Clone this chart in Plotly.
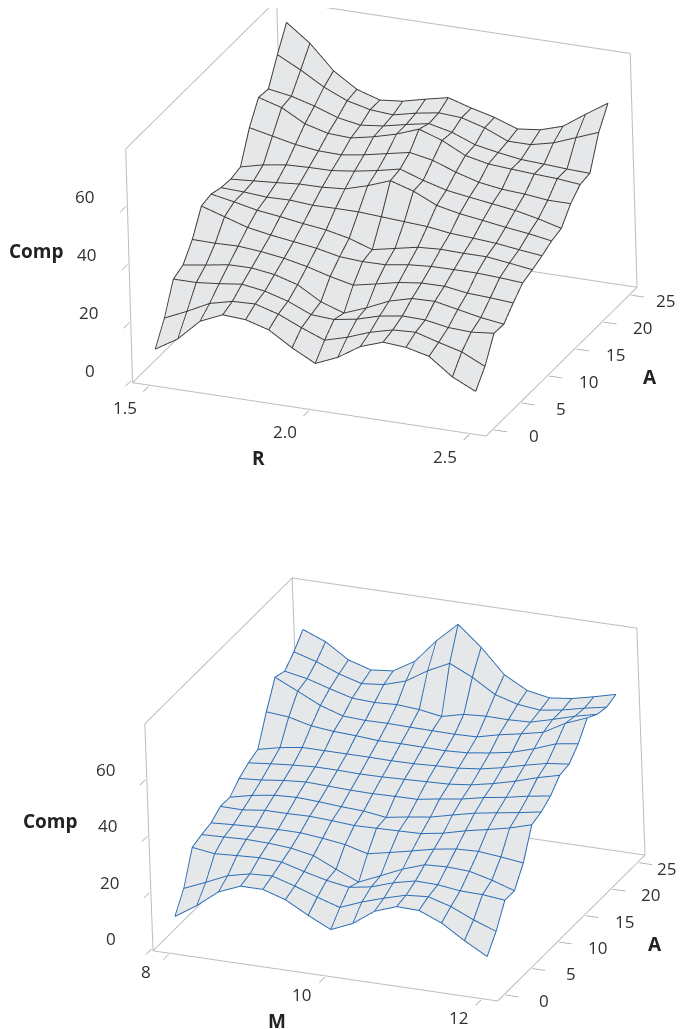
import plotly.graph_objects as go

R_VALUES = [1.5, 1.5714, 1.6429, 1.7143, 1.7857, 1.8571, 1.9286, 2.0, 2.0714, 2.1429, 2.2143, 2.2857, 2.3571, 2.4286, 2.5]
M_VALUES = [8.0, 8.2857, 8.5714, 8.8571, 9.1429, 9.4286, 9.7143, 10.0, 10.2857, 10.5714, 10.8571, 11.1429, 11.4286, 11.7143, 12.0]
A_VALUES = [0.0, 1.7857, 3.5714, 5.3571, 7.1429, 8.9286, 10.7143, 12.5, 14.2857, 16.0714, 17.8571, 19.6429, 21.4286, 23.2143, 25.0]

R_TICKS = [1.5, 2.0, 2.5]
R_TICK_TEXT = ["1.5", "2.0", "2.5"]
M_TICKS = [8, 10, 12]
M_TICK_TEXT = ["8", "10", "12"]
A_TICKS = [0, 5, 10, 15, 20, 25]
COMP_TICKS = [0, 20, 40, 60]

# rows run along R (or M), one row per A value, front to back
COMP_R = [
    [9.1, 13.8, 21.1, 24.5, 24.0, 21.7, 16.7, 12.5, 15.8, 20.7, 23.4, 22.8, 20.9, 15.0, 11.2],
    [16.5, 20.0, 23.9, 25.8, 26.1, 23.8, 20.3, 17.2, 19.4, 22.3, 24.3, 24.7, 22.4, 20.3, 16.5],
    [26.6, 26.6, 27.4, 28.4, 27.2, 24.9, 21.5, 21.0, 22.3, 24.6, 25.8, 25.6, 24.2, 23.8, 24.6],
    [28.1, 29.3, 30.6, 30.7, 29.6, 27.3, 22.6, 19.9, 22.9, 26.4, 28.5, 28.7, 27.1, 25.5, 24.4],
    [33.6, 33.5, 33.7, 33.0, 31.9, 30.2, 28.0, 26.2, 27.8, 29.5, 30.5, 30.6, 29.4, 29.0, 28.4],
    [41.8, 39.3, 36.8, 35.4, 34.3, 33.2, 31.5, 31.0, 31.1, 32.3, 32.9, 33.0, 33.0, 32.6, 32.0],
    [42.6, 41.1, 39.4, 38.4, 37.2, 36.2, 34.5, 31.8, 33.4, 35.0, 35.5, 35.3, 35.3, 34.3, 33.2],
    [41.5, 41.2, 40.6, 40.8, 40.2, 40.3, 40.3, 39.8, 39.3, 38.8, 37.7, 37.2, 36.6, 35.6, 34.7],
    [41.1, 41.7, 42.3, 43.0, 43.1, 43.7, 46.0, 48.9, 46.5, 42.8, 41.1, 40.0, 38.8, 37.8, 36.5],
    [42.0, 43.9, 45.1, 45.4, 45.5, 46.5, 47.9, 49.6, 46.9, 44.7, 43.5, 42.4, 41.3, 39.6, 37.5],
    [52.2, 50.5, 48.8, 47.8, 47.6, 48.8, 50.4, 52.0, 50.5, 47.6, 45.3, 44.1, 43.6, 42.7, 42.7],
    [59.3, 57.0, 52.6, 50.5, 50.1, 51.7, 53.8, 56.7, 54.0, 50.0, 48.3, 47.7, 47.2, 46.8, 46.0],
    [58.9, 57.6, 55.4, 52.6, 51.2, 52.1, 53.8, 55.3, 53.5, 50.4, 48.9, 47.7, 47.3, 46.8, 46.5],
    [67.4, 63.3, 58.6, 55.1, 53.2, 52.6, 54.4, 55.7, 55.2, 52.9, 49.5, 49.5, 51.3, 54.3, 57.3],
    [75.2, 69.2, 60.9, 55.7, 53.2, 54.0, 55.9, 57.6, 55.2, 53.2, 50.4, 51.3, 53.7, 59.0, 64.0],
]

COMP_M = [
    [9.7, 14.7, 20.7, 23.9, 23.9, 21.4, 17.0, 13.1, 16.4, 21.9, 24.7, 24.5, 21.2, 16.1, 11.6],
    [16.3, 19.6, 23.1, 24.9, 25.3, 22.9, 20.1, 17.6, 20.7, 23.2, 25.4, 26.0, 23.7, 20.1, 17.2],
    [27.5, 26.4, 26.9, 27.3, 26.9, 24.7, 22.7, 21.4, 22.7, 25.3, 27.1, 26.9, 25.9, 25.7, 24.9],
    [28.7, 29.0, 29.3, 29.1, 28.5, 27.0, 23.3, 19.9, 23.3, 26.8, 29.5, 29.9, 29.5, 27.5, 24.9],
    [29.5, 30.0, 30.4, 30.6, 30.6, 29.8, 28.7, 26.6, 28.2, 29.9, 31.7, 32.9, 33.2, 32.4, 31.4],
    [32.0, 31.9, 32.9, 32.9, 33.1, 32.7, 32.1, 32.3, 32.5, 32.7, 34.0, 36.0, 37.6, 39.3, 41.6],
    [31.9, 33.7, 34.9, 35.3, 34.9, 34.3, 33.9, 32.8, 34.1, 35.2, 37.1, 38.9, 40.2, 41.4, 42.8],
    [35.2, 35.8, 36.8, 37.4, 37.1, 36.8, 36.7, 36.9, 37.0, 38.3, 39.4, 41.1, 42.3, 43.9, 45.1],
    [37.4, 38.2, 38.9, 39.4, 39.4, 39.2, 39.3, 39.6, 39.9, 40.2, 41.1, 42.7, 44.7, 47.1, 49.1],
    [38.8, 40.6, 41.8, 41.8, 41.8, 41.8, 41.7, 41.8, 42.2, 42.5, 43.4, 45.0, 47.0, 48.8, 49.7],
    [48.8, 48.1, 46.1, 45.3, 44.9, 44.3, 44.4, 44.3, 44.2, 44.6, 45.7, 47.1, 49.5, 52.4, 53.6],
    [57.7, 53.9, 50.0, 47.4, 47.0, 47.1, 46.9, 46.8, 46.7, 46.9, 48.8, 50.3, 52.0, 56.3, 59.4],
    [56.5, 55.0, 52.6, 50.4, 50.0, 50.4, 49.8, 48.5, 50.4, 50.9, 50.8, 51.1, 53.2, 55.5, 57.3],
    [60.0, 57.7, 54.5, 52.2, 53.0, 55.4, 60.2, 64.0, 60.2, 55.2, 52.9, 52.0, 53.2, 55.0, 56.5],
    [64.6, 61.4, 56.1, 53.7, 54.5, 59.1, 67.5, 74.5, 67.5, 58.9, 54.5, 53.0, 53.9, 55.7, 57.7],
]

FONT = "Open Sans"
BOX_COLOR = "#bdbdbd"
TEXT_COLOR = "#303030"
FILL = "#e6e7e9"
Z_RANGE = [-1, 80]

# the page keeps its default 8px body margin, so the figure sits 8px in
PAGE_MARGIN = 8
FIG_W = 685
FIG_H = 1021


def padded(values):
    pad = (values[-1] - values[0]) * 0.055
    return [values[0] - pad, values[-1] + pad]


def surface(x, y, z, scene):
    return go.Surface(
        x=x, y=y, z=z, scene=scene, showscale=False, hoverinfo="skip",
        colorscale=[[0, FILL], [1, FILL]],
        lighting=dict(ambient=1, diffuse=0, specular=0, fresnel=0),
    )


def mesh_lines(x, y, z, color, scene):
    # wire mesh through every surface node, lifted a little so it wins the depth test
    lift = 0.15
    xs, ys, zs = [], [], []
    for j, row in enumerate(z):
        for i, val in enumerate(row):
            xs.append(x[i])
            ys.append(y[j])
            zs.append(val + lift)
        xs.append(None)
        ys.append(None)
        zs.append(None)
    for i in range(len(x)):
        for j in range(len(y)):
            xs.append(x[i])
            ys.append(y[j])
            zs.append(z[j][i] + lift)
        xs.append(None)
        ys.append(None)
        zs.append(None)
    return go.Scatter3d(
        x=xs, y=ys, z=zs, scene=scene, mode="lines", hoverinfo="skip",
        showlegend=False, line=dict(color=color, width=2),
    )


def inset(rng):
    # lines sitting exactly on the axis range get clipped into dashes
    gap = (rng[1] - rng[0]) * 0.003
    return [rng[0] + gap, rng[1] - gap]


def box_lines(xr, yr, zr, scene):
    # only the cube edges the original draws: floor, three verticals, two top edges
    xr, yr, zr = inset(xr), inset(yr), inset(zr)
    xs = [xr[0], xr[1], xr[1], xr[0], xr[0], None, xr[0], xr[0], xr[1], xr[1], None, xr[0], xr[0], None, xr[0], xr[0]]
    ys = [yr[0], yr[0], yr[1], yr[1], yr[0], None, yr[0], yr[1], yr[1], yr[1], None, yr[0], yr[0], None, yr[1], yr[1]]
    zs = [zr[0], zr[0], zr[0], zr[0], zr[0], None, zr[1], zr[1], zr[1], zr[0], None, zr[0], zr[1], None, zr[0], zr[1]]
    return go.Scatter3d(
        x=xs, y=ys, z=zs, scene=scene, mode="lines", hoverinfo="skip",
        showlegend=False, line=dict(color=BOX_COLOR, width=2),
    )


def axis(rng, ticks):
    return dict(
        range=rng, tickvals=ticks, showticklabels=False,
        title=dict(text=""), showgrid=False, zeroline=False, showline=False,
        showbackground=False, showspikes=False, ticks="outside", ticklen=14,
        tickcolor="#a8a8a8", tickwidth=2,
    )


def tick_note(x, y, z, text, xshift, yshift):
    return dict(
        x=x, y=y, z=z, text=text, showarrow=False, xshift=xshift, yshift=yshift,
        xanchor="center", yanchor="middle",
        font=dict(family=FONT, size=17, color=TEXT_COLOR),
    )


def tick_notes(xr, yr, xticks, xtext, x_shift, a_shift, z_shift, last_a_nudge):
    # anchors sit just inside the range, plotly drops notes right on its edge
    xr, yr, zr = inset(xr), inset(yr), inset(Z_RANGE)
    notes = []
    for val, text in zip(xticks, xtext):
        notes.append(tick_note(val, yr[0], zr[0], text, *x_shift))
    for val in A_TICKS:
        # the last label would run off the right of the window
        nudge = last_a_nudge if val == A_TICKS[-1] else 0
        notes.append(tick_note(xr[1], val, zr[0], str(val), a_shift[0] + nudge, a_shift[1]))
    for val in COMP_TICKS:
        notes.append(tick_note(xr[0], yr[0], val, str(val), *z_shift))
    return notes


def scene_layout(xr, yr, xticks, domain, aspect, eye, center_z, up, notes):
    return dict(
        domain=domain,
        dragmode="orbit",
        xaxis=axis(xr, xticks),
        yaxis=axis(yr, A_TICKS),
        zaxis=axis(Z_RANGE, COMP_TICKS),
        aspectmode="manual",
        aspectratio=dict(x=aspect[0], y=aspect[0], z=aspect[1]),
        camera=dict(
            eye=dict(x=eye[0], y=eye[1], z=eye[2] + center_z),
            up=dict(x=up[0], y=up[1], z=1),
            center=dict(x=0, y=0, z=center_z),
            projection=dict(type="orthographic"),
        ),
        annotations=notes,
    )


def title_note(text, x, y):
    return dict(
        text=f"<b>{text}</b>", x=(x - PAGE_MARGIN) / FIG_W, y=1 - (y - PAGE_MARGIN) / FIG_H,
        xref="paper", yref="paper", showarrow=False, xanchor="center", yanchor="middle",
        font=dict(family=FONT, size=19, color="#222222"),
    )


r_range = padded(R_VALUES)
m_range = padded(M_VALUES)
a_range = padded(A_VALUES)

fig = go.Figure()
fig.add_trace(box_lines(r_range, a_range, Z_RANGE, "scene"))
fig.add_trace(surface(R_VALUES, A_VALUES, COMP_R, "scene"))
fig.add_trace(mesh_lines(R_VALUES, A_VALUES, COMP_R, "#3c3c3c", "scene"))
fig.add_trace(box_lines(m_range, a_range, Z_RANGE, "scene2"))
fig.add_trace(surface(M_VALUES, A_VALUES, COMP_M, "scene2"))
fig.add_trace(mesh_lines(M_VALUES, A_VALUES, COMP_M, "#2a6db5", "scene2"))

fig.update_layout(
    width=FIG_W,
    height=FIG_H,
    margin=dict(l=0, r=0, t=0, b=0),
    paper_bgcolor="white",
    showlegend=False,
    scene=scene_layout(
        r_range, a_range, R_TICKS,
        dict(x=[0.1197, 0.972], y=[0.5475, 1.0]),
        (1.675, 1.117), (0.92, -2.086, 1.025), -0.0994, (0.0243, 0.0107),
        tick_notes(r_range, a_range, R_TICKS, R_TICK_TEXT, (-24, -22.5), (40.5, -6), (-42.5, 9.5), -5),
    ),
    scene2=scene_layout(
        m_range, a_range, M_TICKS,
        dict(x=[0.1416, 0.9883], y=[0.0, 0.4643]),
        (1.592, 1.057), (0.927, -2.083, 1.025), -0.0117, (0.03, 0.0134),
        tick_notes(m_range, a_range, M_TICKS, M_TICK_TEXT, (-23.5, -18.5), (39.5, -6.3), (-41.5, 10.2), -11),
    ),
    annotations=[
        title_note("Comp", 36, 251),
        title_note("R", 258, 458),
        title_note("A", 650, 377),
        title_note("Comp", 50, 821),
        title_note("M", 277, 1021),
        title_note("A", 655, 944),
    ],
)

fig.write_html("out.html")
